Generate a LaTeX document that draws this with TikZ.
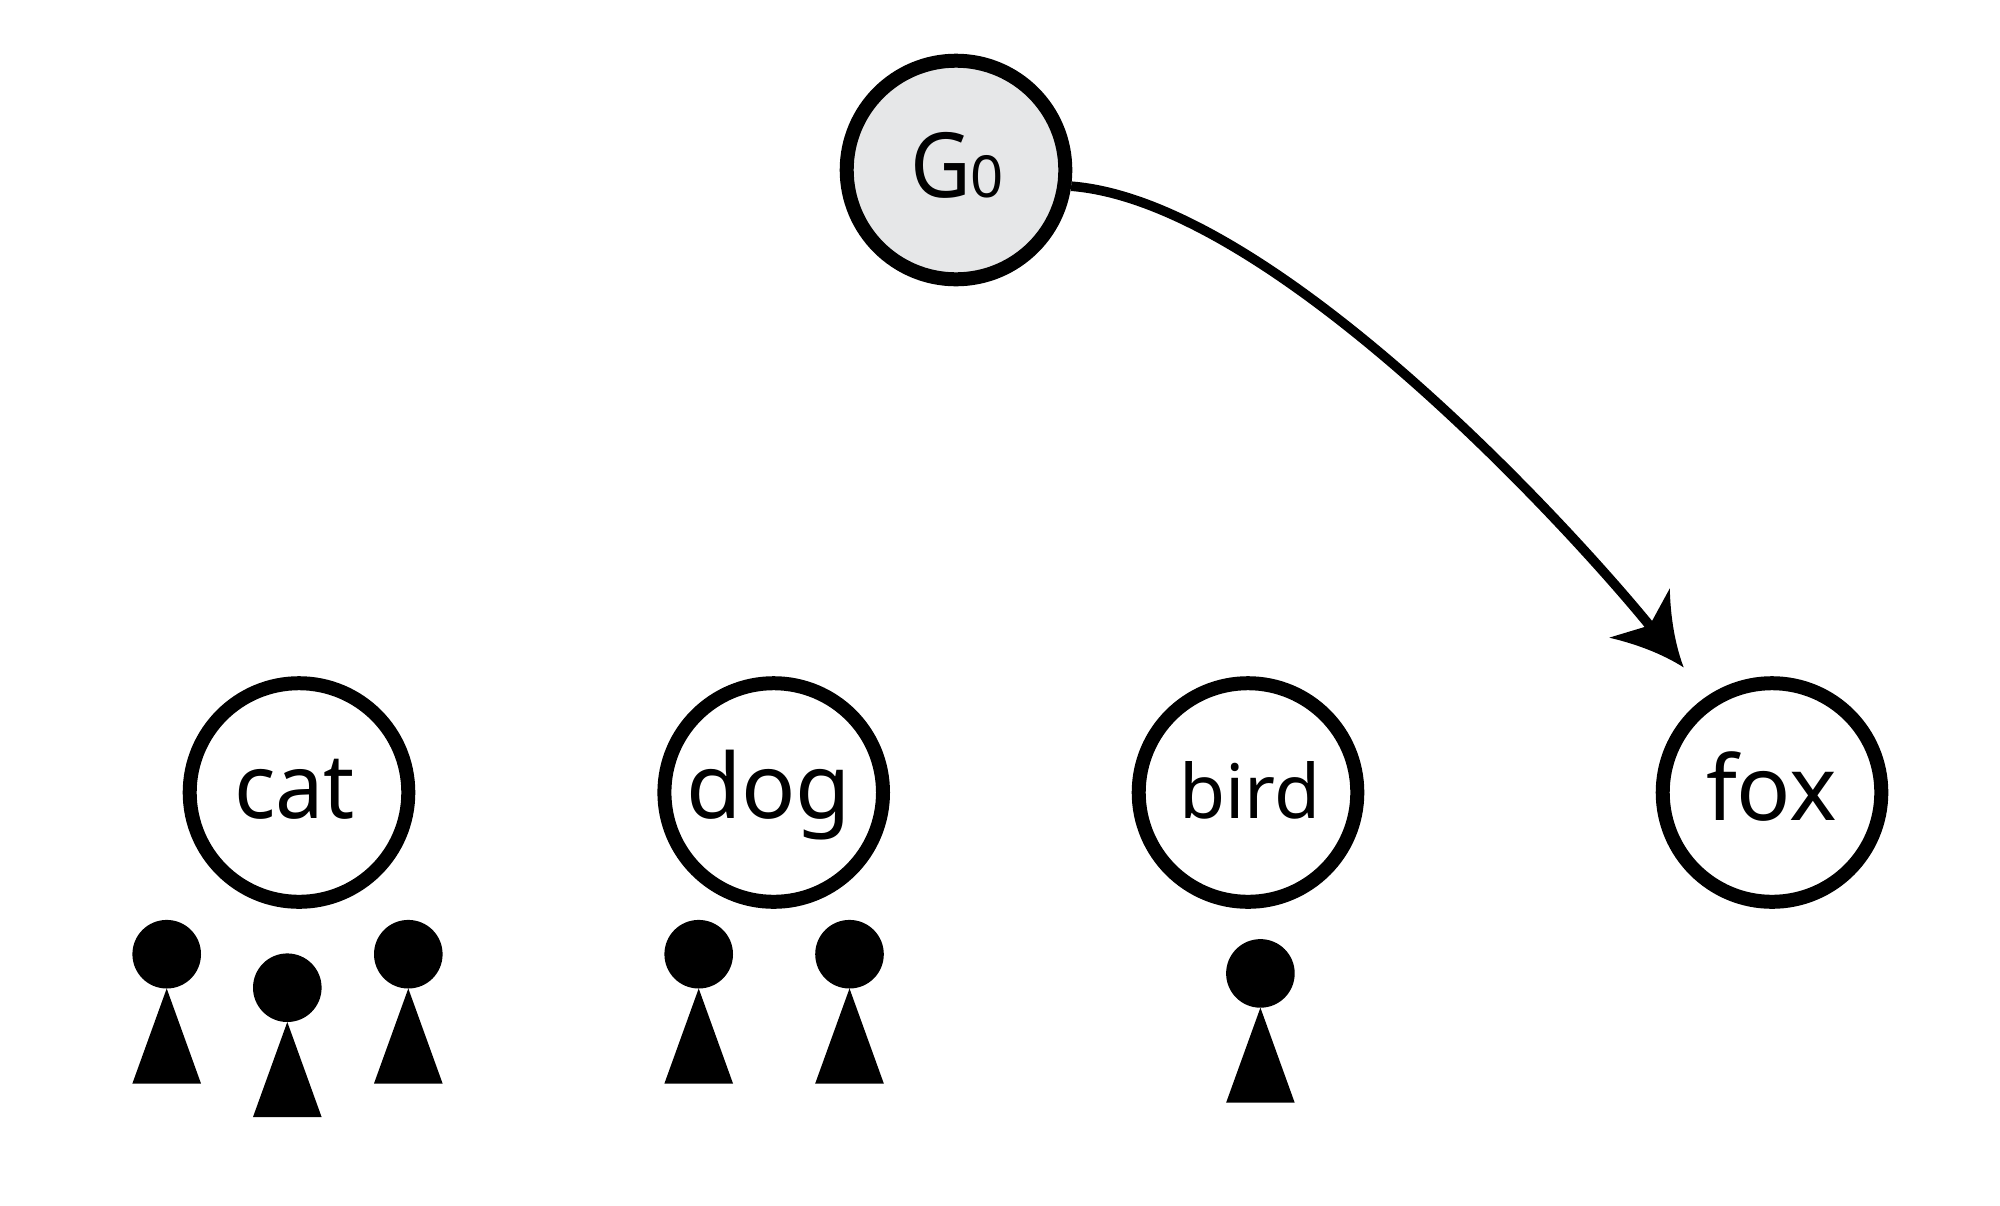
\documentclass[tikz,border=0pt]{standalone}
\usepackage{fontspec}
\usepackage{graphicx}
\setmainfont{Noto Sans}
\definecolor{gzero}{HTML}{E6E7E8}
\pgfdeclarearrow{
  name = CurvedHead,
  setup code = {
    \pgfarrowssetlineend{-26pt}
    \pgfarrowssetvisualbackend{-28pt}
    \pgfarrowssetbackend{-35pt}
    \pgfarrowssettipend{0pt}
    \pgfarrowshullpoint{0pt}{0pt}
    \pgfarrowshullpoint{-35pt}{19.5pt}
    \pgfarrowshullpoint{-35pt}{-19.5pt}
  },
  drawing code = {
    \pgfpathmoveto{\pgfqpoint{0pt}{0pt}}
    \pgfpathcurveto{\pgfqpoint{-12pt}{4pt}}{\pgfqpoint{-24pt}{11pt}}{\pgfqpoint{-35pt}{19.5pt}}
    \pgfpathlineto{\pgfqpoint{-27pt}{0pt}}
    \pgfpathlineto{\pgfqpoint{-35pt}{-19.5pt}}
    \pgfpathcurveto{\pgfqpoint{-24pt}{-11pt}}{\pgfqpoint{-12pt}{-4pt}}{\pgfqpoint{0pt}{0pt}}
    \pgfpathclose
    \pgfusepathqfill
  }
}
\tikzset{
  ring/.style={circle,draw=black,line width=7pt,fill=white,minimum size=109.3pt,inner sep=0pt},
  greyring/.style={ring,fill=gzero},
  wordlabel/.style={anchor=base west,inner sep=0pt,outer sep=0pt,text=black},
  link/.style={draw=black,line width=4.8pt,-{CurvedHead},shorten >=18.5pt},
  person/.pic={
    \fill[black] (0,-34.3) circle[radius=34.3];
    \fill[black] (0,0) -- (34.3,95) -- (-34.3,95) -- cycle;
  }
}
\newcommand{\wordfont}[2]{\fontsize{#1}{#1}\selectfont #2}
\begin{document}
\begin{tikzpicture}[x=0.5pt,y=-0.5pt]
\useasboundingbox[fill=white] (0,0) rectangle (2000,1205);
\node[greyring] (g0) at (956,170) {};
\node[ring] (cat) at (299,792.5) {};
\node[ring] (dog) at (773.7,792.5) {};
\node[ring] (bird) at (1248,792.5) {};
\node[ring] (fox) at (1772,792.5) {};
\node[wordlabel] (g0label) at (910,197.7) {\scalebox{0.93}[1]{\wordfont{45}{G}}\wordfont{29}{0}};
\node[wordlabel] (catlabel) at (234,818) {\scalebox{0.96}[1]{\wordfont{45}{cat}}};
\node[wordlabel] (doglabel) at (686,818) {\wordfont{45}{dog}};
\node[wordlabel] (birdlabel) at (1179.5,818) {\wordfont{37.5}{bird}};
\node[wordlabel] (foxlabel) at (1706,820) {\wordfont{45}{fox}};
\draw[link] (g0.-8) .. controls (1273,202) and (1572,530) .. (fox.124.5);
\pic at (166.7,988.5) {person};
\pic at (287.3,1022) {person};
\pic at (408.3,988.5) {person};
\pic at (698.7,988.5) {person};
\pic at (849.5,988.5) {person};
\pic at (1260.4,1007.7) {person};
\end{tikzpicture}
\end{document}
